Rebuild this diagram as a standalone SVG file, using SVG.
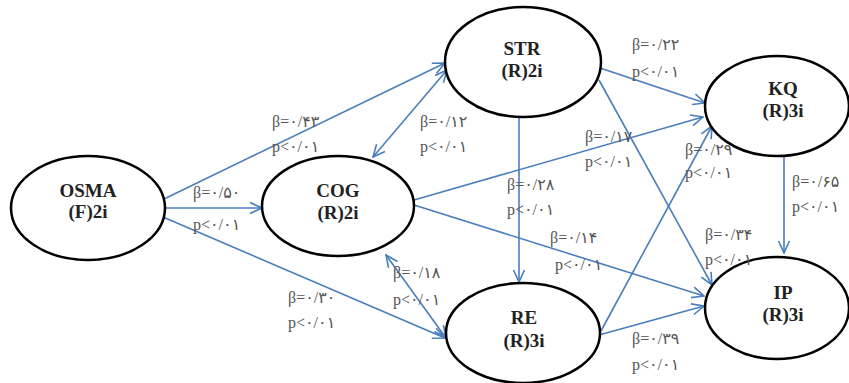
<svg xmlns="http://www.w3.org/2000/svg" width="849" height="383" viewBox="0 0 849 383">
<style>
.node ellipse{fill:#fff;stroke:#000;stroke-width:2.5}
.node text{font-family:"Liberation Serif","Times New Roman",serif;font-weight:bold;font-size:19px;fill:#222;text-anchor:middle}
.lbl{font-family:"Liberation Serif","DejaVu Sans",serif;font-size:16px;fill:#555}
.c path{fill:none;stroke:#4A7EBB;stroke-width:1.6;marker-end:url(#ah)}
.c path.both{marker-start:url(#ah)}
</style>
<defs>
<marker id="ah" viewBox="0 0 14 14" refX="13" refY="7" markerWidth="14" markerHeight="14" orient="auto-start-reverse" markerUnits="userSpaceOnUse">
<path d="M1,1.5 L13,7 L1,12.5" fill="none" stroke="#4A7EBB" stroke-width="1.6"/>
</marker>
</defs>
<rect width="849" height="383" fill="#fff"/>
<g class="c" id="connectors">
<path d="M164,199 L445,63"/>
<path d="M165,208 L262,208"/>
<path d="M163,217 L445,338"/>
<path class="both" d="M373,157 L447,70"/>
<path class="both" d="M386,255 L446,338"/>
<path d="M519,118 L519,282"/>
<path d="M600,68 L705,103"/>
<path d="M599,80 L712,285"/>
<path d="M414,200 L703,117"/>
<path d="M414,205 L704,296"/>
<path d="M599,335 L704,306"/>
<path d="M601,331 L712,126"/>
<path d="M784,156 L784,253"/>
</g>
<g class="node" id="OSMA"><ellipse cx="88" cy="208" rx="77" ry="52"/><text x="88" y="197">OSMA</text><text x="88" y="218">(F)2i</text></g>
<g class="node" id="COG"><ellipse cx="338" cy="206" rx="76" ry="50"/><text x="338" y="197">COG</text><text x="338" y="219">(R)2i</text></g>
<g class="node" id="STR"><ellipse cx="523" cy="62" rx="78" ry="55"/><text x="522" y="55">STR</text><text x="522" y="77">(R)2i</text></g>
<g class="node" id="KQ"><ellipse cx="777" cy="106" rx="72" ry="50"/><text x="783" y="95">KQ</text><text x="783" y="117">(R)3i</text></g>
<g class="node" id="RE"><ellipse cx="523" cy="333" rx="77" ry="50"/><text x="524" y="324">RE</text><text x="524" y="347">(R)3i</text></g>
<g class="node" id="IP"><ellipse cx="777" cy="308" rx="72" ry="51"/><text x="783" y="299">IP</text><text x="783" y="321">(R)3i</text></g>
<g id="labels">
<text class="lbl" x="272" y="127">β=۰/۴۳</text><text class="lbl" x="272" y="152">p&lt;۰/۰۱</text>
<text class="lbl" x="420" y="127">β=۰/۱۲</text><text class="lbl" x="420" y="152">p&lt;۰/۰۱</text>
<text class="lbl" x="193" y="198">β=۰/۵۰</text><text class="lbl" x="193" y="230">p&lt;۰/۰۱</text>
<text class="lbl" x="288" y="303">β=۰/۳۰</text><text class="lbl" x="288" y="328">p&lt;۰/۰۱</text>
<text class="lbl" x="393" y="278">β=۰/۱۸</text><text class="lbl" x="393" y="305">p&lt;۰/۰۱</text>
<text class="lbl" x="507" y="190">β=۰/۲۸</text><text class="lbl" x="507" y="215">p&lt;۰/۰۱</text>
<text class="lbl" x="585" y="142">β=۰/۱۷</text><text class="lbl" x="585" y="167">p&lt;۰/۰۱</text>
<text class="lbl" x="685" y="155">β=۰/۲۹</text><text class="lbl" x="685" y="178">p&lt;۰/۰۱</text>
<text class="lbl" x="632" y="50">β=۰/۲۲</text><text class="lbl" x="632" y="77">p&lt;۰/۰۱</text>
<text class="lbl" x="792" y="187">β=۰/۶۵</text><text class="lbl" x="792" y="212">p&lt;۰/۰۱</text>
<text class="lbl" x="550" y="243">β=۰/۱۴</text><text class="lbl" x="555" y="270">p&lt;۰/۰۱</text>
<text class="lbl" x="705" y="240">β=۰/۳۴</text><text class="lbl" x="705" y="265">p&lt;۰/۰۱</text>
<text class="lbl" x="632" y="344">β=۰/۳۹</text><text class="lbl" x="632" y="370">p&lt;۰/۰۱</text>
</g>
</svg>
